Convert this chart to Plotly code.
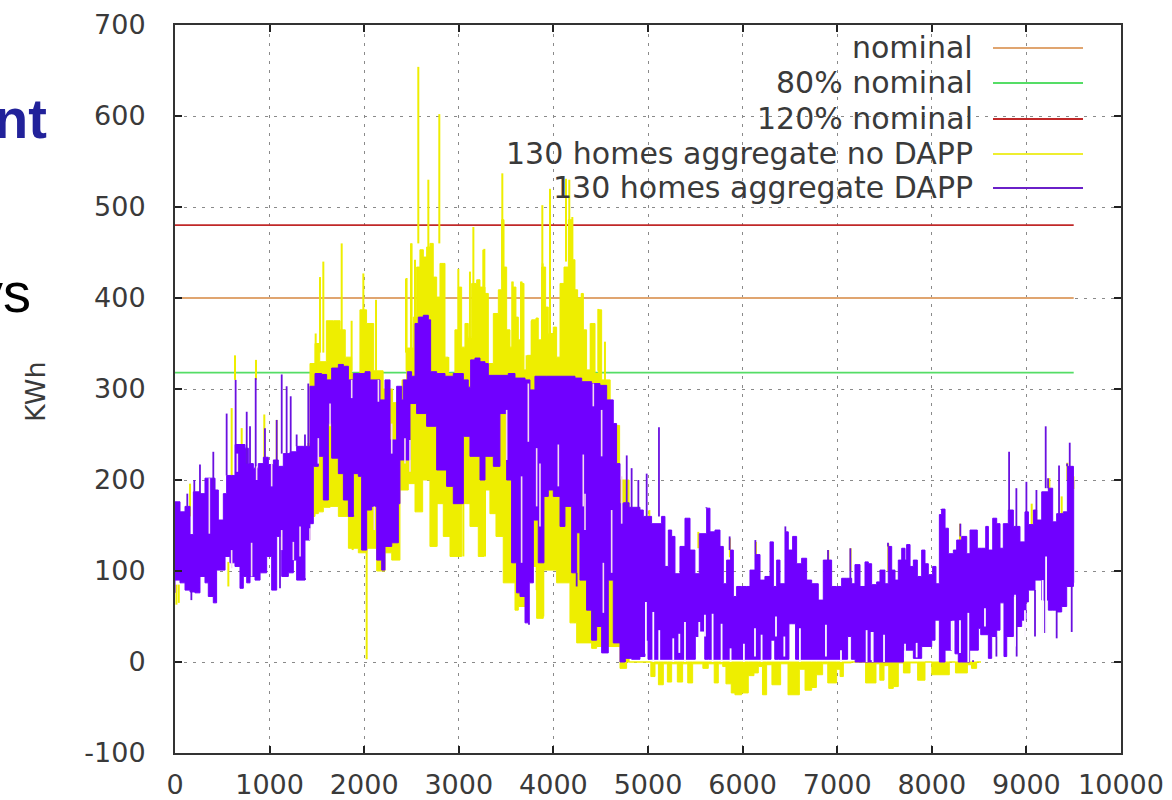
import plotly.graph_objects as go

# ---------- values ----------
X_TICKS = list(range(0, 10001, 1000))
X_LABELS = [str(v) for v in X_TICKS]
Y_TICKS = list(range(-100, 701, 100))
Y_LABELS = [str(v) for v in Y_TICKS]
LINE_X = [0, 9500]
NOMINAL = 400
NOMINAL_80 = 318
NOMINAL_120 = 480

DAPP_HI_X = [0,53,106,159,194,264,317,370,423,458,511,546,599,634,687,740,775,828,881,934,987,1040,1092,1145,1216,1286,1357,1410,
             1427,1480,1550,1603,1656,1727,1780,1833,1885,1938,2009,2062,2115,2167,2220,2273,2343,2396,
             2413,2456,2501,2537,2572,2625,2678,2702,2766,2854,2942,3048,3100,3125,3171,3224,3277,3312,3435,3523,3594,3700,3752,3805,3928,4070,4228,4299,4404,4492,
             4563,4633,4668,4704,4740,4800,4915,4950,5038,5144,5179,5215,5250,5285,5338,5391,5444,5496,5542,5620,5655,5708,5761,5796,5831,5873,5902,5937,5990,6043,6078,6131,6184,6236,6290,6325,6360,6395,6448,6483,6529,6571,6624,6677,6730,6800,6853,6906,6941,6994,7047,7100,7153,7188,7241,
             7294,7329,7364,7417,7452,7505,7540,7576,7611,7646,7682,7717,7734,7770,7805,7847,7893,7928,7963,8009,8044,8080,8104,8140,8175,8228,8263,8316,8369,8404,8457,8481,8527,8570,8598,8644,8686,8721,8756,8809,8862,8932,8985,9021,9074,9109,9162,9232,9278,9320,9390,9433,9497,9500]
DAPP_HI_Y = [176,165,171,140,187,185,202,202,189,156,185,205,205,239,239,235,218,213,218,225,217,222,215,229,231,237,237,237,
             303,317,316,310,323,327,325,310,317,317,319,310,310,288,310,244,303,288,
             310,319,314,372,379,381,376,319,317,314,317,310,302,332,334,330,328,315,315,317,312,310,299,314,314,314,312,308,306,304,
             288,262,218,174,175,170,167,160,152,160,105,145,138,97,127,158,123,97,141,169,143,145,127,86,112,123,72,83,83,83,101,118,90,94,132,83,112,86,143,123,138,108,114,90,86,68,112,112,83,83,92,92,86,107,83,
             110,108,85,88,101,86,127,101,90,112,125,112,129,105,112,94,123,108,96,105,86,162,168,147,119,123,134,138,119,145,145,125,125,149,123,158,152,125,152,167,149,132,165,151,167,156,187,191,154,163,165,215,200,190]
DAPP_LO_X = [0,53,106,159,211,264,317,352,405,440,529,581,634,687,722,758,793,846,899,969,1022,1075,1128,1198,1251,1286,1374,1427,1462,1515,1568,1621,1656,1727,1780,1833,1885,1938,1973,2026,2079,2132,2185,2220,2291,2361,
             2378,2484,2554,2660,2766,2871,2942,3048,3118,3224,3277,3365,3435,3506,3558,3611,3647,3700,3745,3788,3840,3900,3946,3999,4070,4122,4193,4246,4281,4351,4404,4457,4510,4580,4633,4704,4757,4827,4915,
             4968,5000,5038,5500,5540,5600,5640,6300,6340,6380,6490,6520,6560,6595,7110,7150,7190,7700,7705,7805,7893,7999,8034,8080,8140,8210,8245,8280,8316,8400,8492,8517,8598,8633,8686,8721,8763,8792,8862,8897,8950,8996,9021,9091,9162,9232,9278,9320,9373,9426,9497,9500]
DAPP_LO_Y = [76,90,87,79,77,76,94,87,72,65,101,116,109,105,81,94,87,94,90,98,116,79,138,94,98,112,90,134,152,215,226,178,262,224,207,178,160,207,204,123,167,171,112,101,127,131,
             174,222,284,273,259,211,193,174,248,226,200,226,215,273,200,109,76,72,43,87,156,109,182,189,182,149,171,98,142,90,57,24,39,10,90,21,0,4,3,
             6,24,3,3,28,34,3,3,24,3,3,42,42,3,3,28,3,0,17,13,4,17,24,46,0,13,46,9,0,0,13,37,30,4,28,35,65,6,28,72,39,46,66,79,90,68,57,57,55,61,83,87]

DAPP_UP_X = [641,853,1128,1180,1223,546,758,793,951,1075,405,264,130,204,1286,1374,1409,
             4775,4827,4898,4986,5116,8817,9204,9458,9345,5617,5388,5863,6135,6279,6452,6526,
             6903,7139,7537,7731,7890,8101,8302,8647,8894,9000,9106,9229,9430]
DAPP_UP_Y = [310,312,316,303,292,273,275,259,257,266,231,217,185,200,250,250,306,
             227,213,200,207,258,231,259,241,216,170,158,138,134,132,149,138,
             123,125,131,129,123,167,152,158,191,198,189,202,218]
DAPP_DOWN_X = [173,440,1110,1374,1885,2202,3742,4246,4422,4574,4757,2008,9479,9320,9197,9091,8897,8683,8436]
DAPP_DOWN_Y = [68,65,81,92,161,103,41,83,32,10,3,123,33,26,32,28,6,6,2]

GAP_UPPER_X = [363,659,863,1022,810,599,1128,1251,1322,1427,1515,1639,1868,2150,2291,2431,2107,2484,3506,3735,3664,3823,3858,4052,4316,4510,4334,4616,4528,4422,4722]
GAP_UPPER_HI = [202,229,215,218,131,123,145,132,149,147,246,284,310,310,262,246,171,244,277,306,204,235,218,239,228,277,185,167,109,306,204]
GAP_UPPER_LO = [141,209,200,193,94,103,123,112,116,134,218,259,290,286,229,218,145,209,222,242,109,171,149,193,171,226,145,98,54,281,152]
GAP_LOWER_X = [4978,5056,5119,5267,5331,5391,5542,5602,5683,5778,5873,6014,6131,6201,6353,6441,6606,6881,7040,7311,7364,7375,7495,7717,7840,8210,8298,8386,8562,8880,8985,9208,9172]
GAP_LOWER_HI = [66,55,35,26,31,44,44,52,53,42,15,20,37,30,50,28,37,41,13,35,33,33,30,20,21,45,46,54,59,74,57,116,90]
GAP_LOWER_LO = [9,0,2,0,10,0,10,28,0,0,0,0,6,0,28,6,0,6,0,0,2,0,0,5,5,13,10,0,39,17,28,32,32]

NODAPP_TOP_X = [1400,1427,1480,1530,1600,1675,1745,1800,1867,1955,2025,2100,2200,2300,2400,2450,2519,2554,2589,2625,2660,2695,2730,2766,2801,2836,2854,2889,2959,2995,3030,3065,3100,3136,3189,3224,3277,3312,3365,3418,3453,3478,3506,3541,3569,3604,3629,3664,3689,3724,3770,3816,3840,3876,3918,3946,3999,4034,4070,4112,4158,4203,4228,4256,4299,4316,4351,4394,4440,4475,4510,4600,4700,4800]
NODAPP_TOP_Y = [240,328,350,330,375,375,365,335,317,387,372,320,300,285,310,345,379,434,453,445,456,460,423,401,438,438,335,317,365,412,346,372,357,416,420,412,405,328,383,409,486,434,365,346,412,379,354,416,321,337,376,378,354,434,390,361,368,335,416,434,486,442,409,400,405,365,321,372,317,387,310,260,200,150]
NODAPP_BOT_X = [1400,1480,1515,1568,1640,1727,1833,1878,1938,2026,2132,2220,2291,2378,2466,2537,2618,2695,2766,2836,2907,3030,3118,3206,3266,3329,3393,3470,3594,3629,3700,3823,3893,4034,4175,4246,4404,4457,4563,4704,4774,4800]
NODAPP_BOT_Y = [140,160,163,165,170,171,160,125,125,120,125,100,120,112,189,196,165,200,127,174,138,116,174,149,116,189,163,138,87,57,61,105,48,101,87,43,21,15,17,17,-7,0]
NODAPP_NEG_X = [4800,5030,5074,5110,5162,5205,5250,5310,5366,5420,5472,5580,5637,5700,5743,5790,5824,5880,5919,5990,6060,6120,6166,6210,6254,6310,6402,6480,6600,6660,6730,6780,6846,6900,6994,7030,7065,7150,7300,7410,7450,7495,7545,7593,7646,7700,7770,7850,7928,8000,8185,8250,8376,8420,8474,8520]
NODAPP_NEG_Y = [0,0,-16,-2,-25,-2,-22,-2,-22,-2,-23,-2,-7,-2,-23,-2,-5,-24,-34,-36,-34,-15,-12,-5,-36,-3,-25,-2,-36,-8,-31,-28,-14,-2,-23,-8,-16,-1,0,-23,-2,-20,-4,-29,-27,-1,-12,-1,-20,0,-14,0,-12,-3,-7,0]

NODAPP_UP_X = [2572,2794,2678,3460,3154,3270,2995,3118,3883,3964,3886,4133,4168,4200,2495,2442,1762,1568,
               1533,1991,2125,3566,3658,4306,4475,4394,4545,1867,634,856,1487,3770,2836,
               2448,2501,2537,3259,3569,3664,4299,2889,3717,599,705,944,1075,159,
               5014,5532,5866,6141,6906,7142,8298,9243,9373,9433,9497,9056,7540]
NODAPP_UP_Y = [654,602,530,537,478,454,432,429,502,520,438,531,530,489,460,421,460,440,
               423,427,398,418,418,405,388,372,352,375,337,332,361,375,438,
               422,460,442,453,418,418,405,335,337,279,257,272,266,196,
               167,143,136,132,123,125,152,202,182,219,204,174,130]
NODAPP_UP_BASE = [460,460,430,420,340,340,340,340,340,340,340,440,440,400,340,340,340,340,
                  340,340,320,340,340,340,320,320,310,320,310,310,320,320,340,
                  320,320,320,340,320,320,320,320,320,200,200,200,200,160,
                  140,125,115,110,105,100,130,180,150,200,190,150,100]
NODAPP_DOWN_X = [15,40,564,1878,2026,2766,3048,3277,3893,4228,3823,4387]
NODAPP_DOWN_Y = [63,65,83,123,3,127,116,116,50,43,79,21]
NODAPP_DOWN_BASE = [85,85,110,190,130,190,190,190,110,110,120,60]

LEGEND_LABELS = ["nominal","80% nominal","120% nominal","130 homes aggregate no DAPP","130 homes aggregate DAPP"]
LEGEND_COLORS = ["#e0a570","#55dd66","#c02828","#eeee30","#6a20c8"]

# ---------- style ----------
YELLOW = "#eeee00"
PURPLE = "#7000ff"
INK = "#3a3a3a"
W, H = 1172, 800
L, R, T, B = 175, 1121, 25, 753
PW, PH = R - L, B - T
def px(v): return (v - L) / PW
def py(v): return (B - v) / PH

def nearest(xs, ys, x):
    return ys[min(range(len(xs)), key=lambda i: abs(xs[i] - x))]

def segments(xs, tips, bases):
    sx, sy = [], []
    for x, t, b in zip(xs, tips, bases):
        sx += [x, x, None]
        sy += [b, t, None]
    return sx, sy

fig = go.Figure()
for name, val, col in [("nominal", NOMINAL, "#e0a570"), ("80% nominal", NOMINAL_80, "#55dd66"), ("120% nominal", NOMINAL_120, "#c02828")]:
    fig.add_trace(go.Scatter(x=LINE_X, y=[val, val], mode="lines", name=name, line=dict(color=col, width=1.8), showlegend=False))

def band(name, tx, ty, bx, by, color):
    fig.add_trace(go.Scatter(x=tx + bx[::-1], y=ty + by[::-1], mode="lines", fill="toself", fillcolor=color,
                             line=dict(color=color, width=1, shape="hv"), name=name, showlegend=False))

def spikes(name, xs, tips, bases, color, width=1.6):
    sx, sy = segments(xs, tips, bases)
    fig.add_trace(go.Scatter(x=sx, y=sy, mode="lines", line=dict(color=color, width=width), name=name, showlegend=False))

band("130 homes aggregate no DAPP", NODAPP_TOP_X, NODAPP_TOP_Y, NODAPP_BOT_X, NODAPP_BOT_Y, YELLOW)
band("no DAPP below zero", NODAPP_NEG_X, [0] * len(NODAPP_NEG_X), NODAPP_NEG_X, NODAPP_NEG_Y, YELLOW)
spikes("no DAPP peaks", NODAPP_UP_X, NODAPP_UP_Y, NODAPP_UP_BASE, YELLOW, 2)
spikes("no DAPP troughs", NODAPP_DOWN_X, NODAPP_DOWN_Y, NODAPP_DOWN_BASE, YELLOW, 2)
band("130 homes aggregate DAPP", DAPP_HI_X, DAPP_HI_Y, DAPP_LO_X, DAPP_LO_Y, PURPLE)
spikes("DAPP peaks", DAPP_UP_X, DAPP_UP_Y, [nearest(DAPP_HI_X, DAPP_HI_Y, x) for x in DAPP_UP_X], "#6a10e0", 1.8)
spikes("DAPP troughs", DAPP_DOWN_X, DAPP_DOWN_Y, [nearest(DAPP_LO_X, DAPP_LO_Y, x) for x in DAPP_DOWN_X], "#6a10e0", 1.8)
spikes("gaps upper", GAP_UPPER_X, GAP_UPPER_HI, GAP_UPPER_LO, "#f4d8ee", 1.6)
spikes("gaps lower", GAP_LOWER_X, GAP_LOWER_HI, GAP_LOWER_LO, "#fbf6ff", 1.8)

axis = dict(showline=True, mirror="allticks", linecolor="#333333", linewidth=2, ticks="inside", ticklen=7,
            tickcolor="#222222", tickwidth=2, showgrid=True, gridcolor="#8a8a8a", griddash="3px,6px", gridwidth=1,
            zeroline=False, automargin=False, tickfont=dict(family="DejaVu Sans", size=27, color=INK))

shapes = [dict(type="rect", xref="paper", yref="paper", x0=px(428), x1=px(1088), y0=py(203), y1=py(26),
               fillcolor="white", line=dict(width=0), layer="between")]
annotations = []
rows = [47, 82, 118, 153, 187]
for label, color, row in zip(LEGEND_LABELS, LEGEND_COLORS, rows):
    annotations.append(dict(text=label, xref="paper", yref="paper", x=px(975), y=py(row), xanchor="right", yanchor="middle",
                            showarrow=False, font=dict(family="DejaVu Sans", size=30, color=INK)))
    shapes.append(dict(type="line", xref="paper", yref="paper", x0=px(993), x1=px(1083), y0=py(row + 1), y1=py(row + 1),
                       line=dict(color=color, width=1.8), layer="above"))
annotations.append(dict(text="<b>nt</b>", xref="paper", yref="paper", x=px(49), y=py(118), xanchor="right", yanchor="middle",
                        showarrow=False, font=dict(family="Liberation Sans", size=56, color="#22229a")))
annotations.append(dict(text="ys", xref="paper", yref="paper", x=px(33), y=py(292), xanchor="right", yanchor="middle",
                        showarrow=False, font=dict(family="Liberation Sans", size=56, color="#000000")))
annotations.append(dict(text="KWh", xref="paper", yref="paper", x=px(35), y=py(392), xanchor="center", yanchor="middle", textangle=-90,
                        showarrow=False, font=dict(family="DejaVu Sans", size=27, color=INK)))

fig.update_layout(width=W, height=H, margin=dict(l=L, r=W - R, t=T, b=H - B), paper_bgcolor="white", plot_bgcolor="white",
                  showlegend=False, shapes=shapes, annotations=annotations,
                  xaxis=dict(axis, range=[0, 10000], tickvals=X_TICKS, ticktext=X_LABELS, ticklabelstandoff=7),
                  yaxis=dict(axis, range=[-100, 700], tickvals=Y_TICKS, ticktext=Y_LABELS, ticklabelstandoff=22))
fig.write_html("out.html", post_script="document.body.style.margin='0';", config={"displayModeBar": False})
